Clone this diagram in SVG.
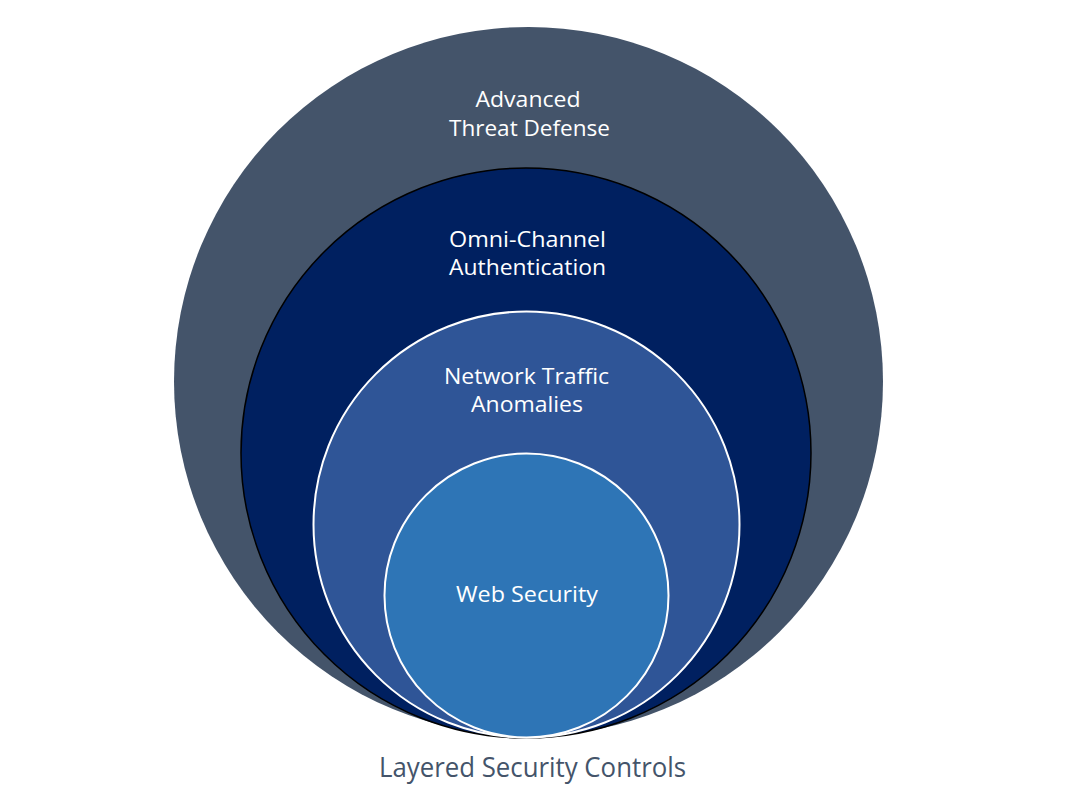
<svg xmlns="http://www.w3.org/2000/svg" width="1073" height="809" viewBox="0 0 1073 809">
<style>
.lbl{font-family:"Open Sans","Liberation Sans",sans-serif;font-size:22.5px;fill:#FFFFFF;text-anchor:middle}
.cap{font-family:"Open Sans","Liberation Sans",sans-serif;font-size:28px;fill:#44546A;text-anchor:middle}
</style>
<rect width="1073" height="809" fill="#FFFFFF"/>
<g id="layer-advanced">
<circle cx="528.5" cy="381.5" r="354.5" fill="#44546A"/>
<text class="lbl" x="528" y="107" textLength="105" lengthAdjust="spacingAndGlyphs">Advanced</text>
<text class="lbl" x="529.5" y="136" textLength="161" lengthAdjust="spacingAndGlyphs">Threat Defense</text>
</g>
<g id="layer-omni">
<circle cx="526" cy="453" r="285" fill="#002060" stroke="#000000" stroke-width="1.5"/>
<text class="lbl" x="527.5" y="247" textLength="157" lengthAdjust="spacingAndGlyphs">Omni-Channel</text>
<text class="lbl" x="527.5" y="275" textLength="157" lengthAdjust="spacingAndGlyphs">Authentication</text>
</g>
<g id="layer-network">
<circle cx="526.5" cy="524.5" r="213" fill="#2F5597" stroke="#FFFFFF" stroke-width="2"/>
<text class="lbl" x="526.5" y="384" textLength="165" lengthAdjust="spacingAndGlyphs">Network Traffic</text>
<text class="lbl" x="527" y="412" textLength="112" lengthAdjust="spacingAndGlyphs">Anomalies</text>
</g>
<g id="layer-web">
<circle cx="526.5" cy="595.5" r="142" fill="#2E75B6" stroke="#FFFFFF" stroke-width="2"/>
<text class="lbl" x="527" y="602" textLength="142" lengthAdjust="spacingAndGlyphs">Web Security</text>
</g>
<g id="caption">
<text class="cap" x="532.5" y="777" textLength="307" lengthAdjust="spacingAndGlyphs">Layered Security Controls</text>
</g>
</svg>
